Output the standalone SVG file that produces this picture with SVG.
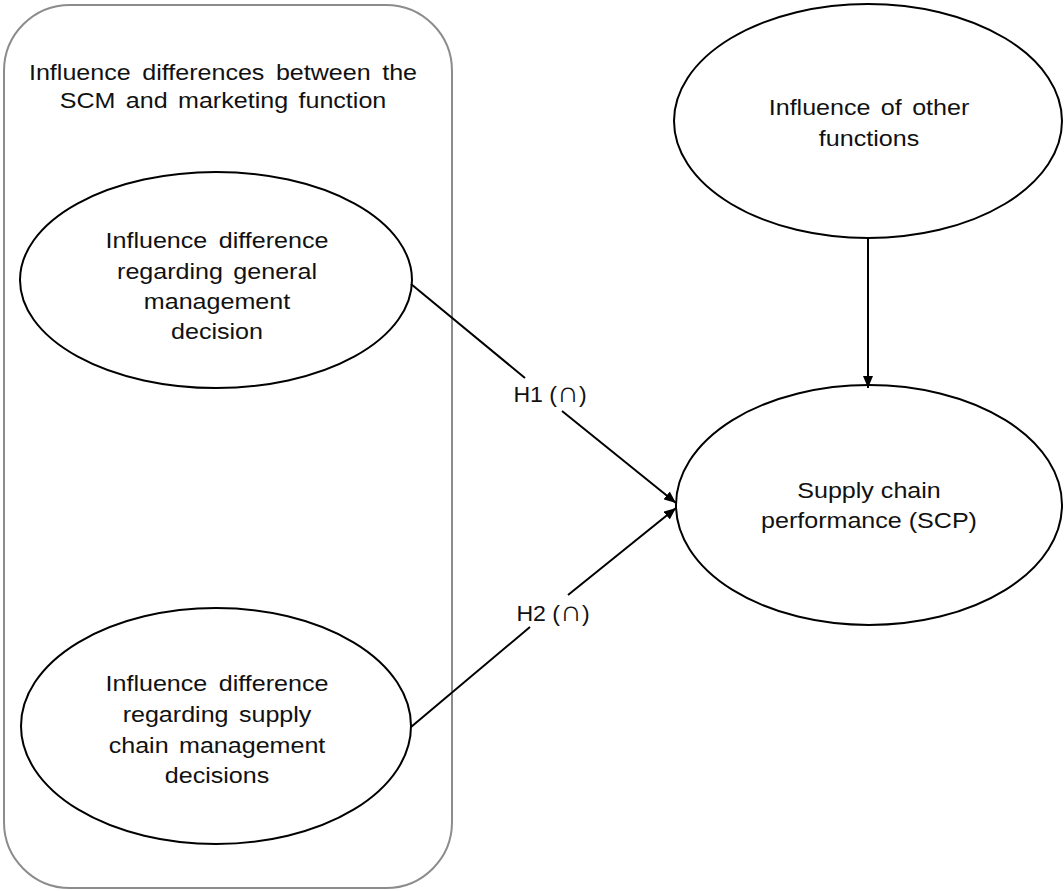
<svg xmlns="http://www.w3.org/2000/svg" width="1064" height="891" viewBox="0 0 1064 891">
<style>
.node{fill:#fff;stroke:#000;stroke-width:2}
.grp{fill:#fff;stroke:#8c8c8c;stroke-width:2}
.t{font-family:"Liberation Sans",Arial,sans-serif;font-size:22px;fill:#111;text-anchor:middle}
.cap{font-family:"DejaVu Sans",sans-serif;font-size:29px;font-weight:300}
.c{fill:none;stroke:#000;stroke-width:2}
</style>
<defs>
<marker id="ah" viewBox="0 0 12 10" refX="12" refY="5" markerWidth="12" markerHeight="10" markerUnits="userSpaceOnUse" orient="auto">
<path d="M0,0 L12,5 L0,10 z" fill="#000"/>
</marker>
</defs>
<rect width="1064" height="891" fill="#fff"/>
<g id="group-box">
<rect class="grp" x="4" y="5" width="448" height="883" rx="66" ry="66"/>
<g transform="translate(223,0) scale(1.14,1)">
<text class="t" x="0" y="80" word-spacing="4">Influence differences between the</text>
<text class="t" x="0" y="108" word-spacing="3">SCM and marketing function</text>
</g>
</g>
<g id="node-general">
<ellipse class="node" cx="216" cy="280" rx="196" ry="108"/>
<g transform="translate(217,0) scale(1.14,1)">
<text class="t" x="0" y="248" word-spacing="4">Influence difference</text>
<text class="t" x="0" y="279" word-spacing="3">regarding general</text>
<text class="t" x="0" y="309">management</text>
<text class="t" x="0" y="339">decision</text>
</g>
</g>
<g id="node-scm">
<ellipse class="node" cx="216" cy="726" rx="195" ry="118"/>
<g transform="translate(217,0) scale(1.14,1)">
<text class="t" x="0" y="691" word-spacing="4">Influence difference</text>
<text class="t" x="0" y="722" word-spacing="3">regarding supply</text>
<text class="t" x="0" y="753" word-spacing="3">chain management</text>
<text class="t" x="0" y="783">decisions</text>
</g>
</g>
<g id="node-other">
<ellipse class="node" cx="868" cy="121" rx="194" ry="117"/>
<g transform="translate(869,0) scale(1.14,1)">
<text class="t" x="0" y="115" word-spacing="3">Influence of other</text>
<text class="t" x="0" y="146">functions</text>
</g>
</g>
<g id="node-scp">
<ellipse class="node" cx="869" cy="505" rx="193" ry="120"/>
<g transform="translate(869,0) scale(1.14,1)">
<text class="t" x="0" y="498">Supply chain</text>
<text class="t" x="0" y="528">performance (SCP)</text>
</g>
</g>
<g id="connectors">
<line class="c" x1="868" y1="238" x2="868" y2="388" marker-end="url(#ah)"/>
<line class="c" x1="411" y1="284" x2="525" y2="378"/>
<line class="c" x1="562" y1="411" x2="676" y2="503" marker-end="url(#ah)"/>
<line class="c" x1="411" y1="727" x2="530" y2="627"/>
<line class="c" x1="568" y1="595" x2="676" y2="508" marker-end="url(#ah)"/>
<g transform="translate(550,0) scale(1.05,1)">
<text class="t" x="0" y="402">H1 (<tspan class="cap">∩</tspan>)</text>
</g>
<g transform="translate(553,0) scale(1.05,1)">
<text class="t" x="0" y="621">H2 (<tspan class="cap">∩</tspan>)</text>
</g>
</g>
</svg>
